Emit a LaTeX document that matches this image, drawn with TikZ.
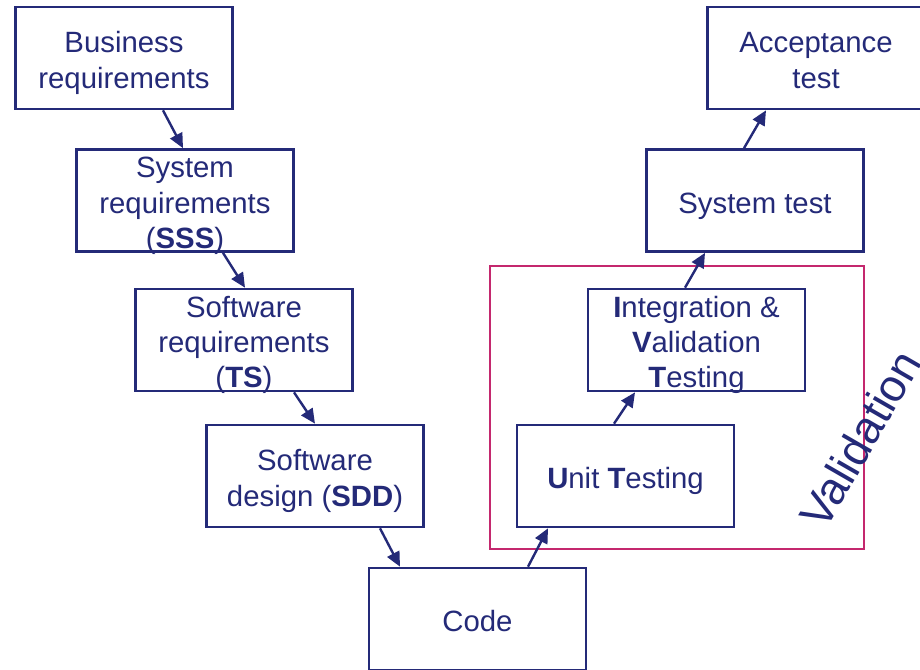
\documentclass[tikz,border=0pt]{standalone}
\usepackage{fontspec}
\setmainfont{Liberation Sans}
\usetikzlibrary{arrows.meta}
\definecolor{navy}{RGB}{36,42,120}
\definecolor{valmag}{RGB}{196,40,110}
% struts that give every box the same vertical text placement
\newcommand\topstrut{\rule{0pt}{24pt}}
\newcommand\botstrut{\rule[-5.2pt]{0pt}{5.2pt}}
% thinner struts for three-line boxes, so they keep the common height
\newcommand\topstrutS{\rule{0pt}{21pt}}
\newcommand\botstrutS{\rule[-2.2pt]{0pt}{2.2pt}}
\tikzset{
  stage/.style={draw=navy, line width=2pt, fill=white, rectangle,
    minimum width=162.75pt, minimum height=76.5pt, inner sep=2pt,
    align=center, text=navy, font=\fontsize{22}{26.4}\selectfont},
  stagethree/.style={stage, inner ysep=0pt},
  flow/.style={draw=navy, line width=1.8pt,
    -{Triangle[length=11pt,width=10pt]}},
  valbox/.style={draw=valmag, line width=1.1pt},
}
\begin{document}
\begin{tikzpicture}[x=0.75pt, y=-0.75pt]
\clip (0,0) rectangle (920,669);
\fill[white] (0,0) rectangle (920,669);

% validation frame around unit and integration testing
\draw[valbox] (490,266) rectangle (864,549);

% left branch: requirements and design
\node[stage] (bus) at (124,58) {\topstrut Business\\requirements\botstrut};
\node[stagethree] (sys) at (185,200.5)
  {\topstrutS System\\requirements\\\smash{(\textbf{SSS})}\botstrutS};
\node[stagethree] (swr) at (244,340)
  {\topstrutS Software\\requirements\\\smash{(\textbf{TS})}\botstrutS};
\node[stage] (sdd) at (315,476) {\topstrut Software\\design (\textbf{SDD})\botstrut};
\node[stage] (code) at (477.5,619) {\topstrut Code\botstrut};

% right branch: testing
\node[stage] (unit) at (625.5,476) {\topstrut\textbf{U}nit \textbf{T}esting\botstrut};
\node[stagethree] (integ) at (696.5,340)
  {\topstrutS\textbf{I}ntegration \&\\\textbf{V}alidation\\\smash{\textbf{T}esting}\botstrutS};
\node[stage] (systest) at (755,200.5) {\topstrut System test\botstrut};
\node[stage] (accept) at (816,58) {\topstrut Acceptance\\test\botstrut};

% label of the validation frame
\node[text=navy, font=\fontsize{34}{36}\selectfont, rotate=60, inner sep=0pt]
  (vallabel) at (860,439) {Validation};

% connectors
\draw[flow] ([shift={(39,0)}]bus.south) -- ([shift={(-2,0)}]sys.north);
\draw[flow] ([shift={(38,0)}]sys.south) -- ([shift={(1,0)}]swr.north);
\draw[flow] ([shift={(50,0)}]swr.south) -- ([shift={(0,0)}]sdd.north);
\draw[flow] ([shift={(65,0)}]sdd.south) -- ([shift={(-77.5,0)}]code.north);
\draw[flow] ([shift={(50.5,0)}]code.north) -- ([shift={(-77.5,0)}]unit.south);
\draw[flow] ([shift={(-11.5,0)}]unit.north) -- ([shift={(-61.5,0)}]integ.south);
\draw[flow] ([shift={(-11.5,0)}]integ.north) -- ([shift={(-50,0)}]systest.south);
\draw[flow] ([shift={(-11,0)}]systest.north) -- ([shift={(-50,0)}]accept.south);
\end{tikzpicture}
\end{document}
